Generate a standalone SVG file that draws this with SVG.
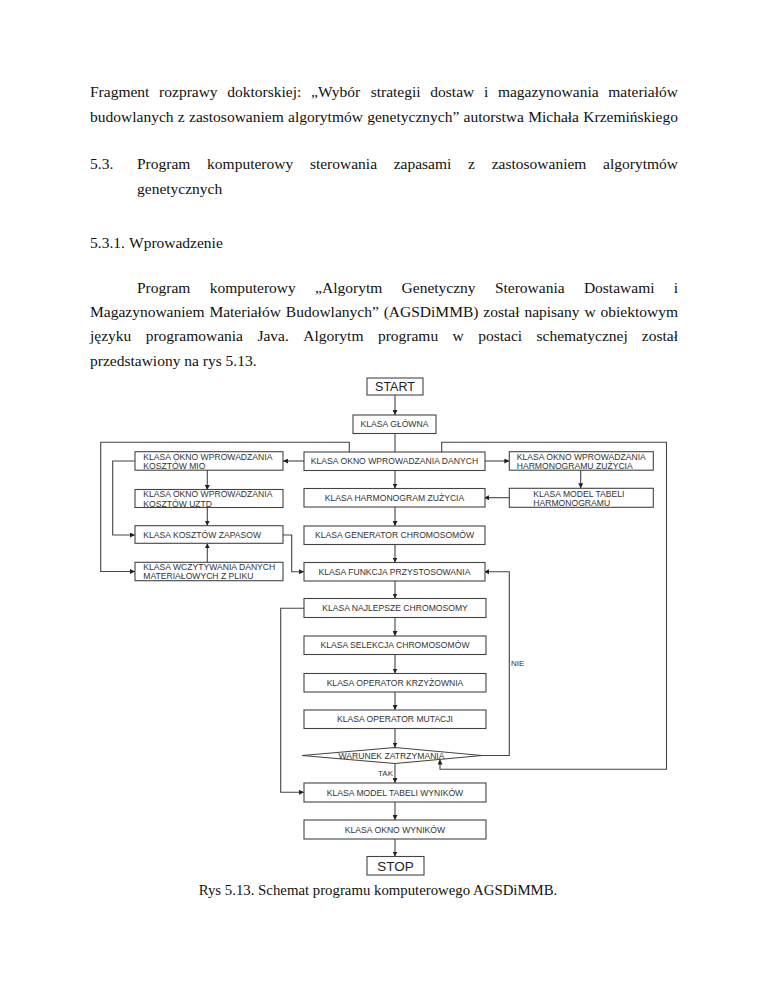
<svg xmlns="http://www.w3.org/2000/svg" width="768" height="994" viewBox="0 0 768 994">
<style>
.t{font-family:"Liberation Serif","Times New Roman",serif;font-size:15.5px;fill:#111}
.e{text-anchor:end}
.cap{font-family:"Liberation Serif","Times New Roman",serif;font-size:14.8px;fill:#111;text-anchor:middle}
.b{fill:#fff;stroke:#444;stroke-width:1.1}
.l{font-family:"Liberation Sans",Arial,sans-serif;font-size:8.6px;fill:#333}
.c{text-anchor:middle}
.big{font-family:"Liberation Sans",Arial,sans-serif;font-size:12.5px;fill:#222;text-anchor:middle}
.lab{font-family:"Liberation Sans",Arial,sans-serif;font-size:8px;fill:#333}
#connectors path{fill:none;stroke:#444;stroke-width:1.1}
</style>
<defs>
<marker id="ah" viewBox="0 0 10 10" refX="10" refY="5" markerWidth="5" markerHeight="5" markerUnits="userSpaceOnUse" orient="auto">
<path d="M0,0 L10,5 L0,10 z" fill="#222"/>
</marker>
</defs>
<rect width="768" height="994" fill="#fff"/>

<g id="body-text">
<text class="t" y="97"><tspan x="90">Fragment</tspan><tspan x="159.1">rozprawy</tspan><tspan x="227.3">doktorskiej:</tspan><tspan x="311.1">„Wybór</tspan><tspan x="370.7">strategii</tspan><tspan x="430.3">dostaw</tspan><tspan x="483.9">i</tspan><tspan x="497.9">magazynowania</tspan></text>
<text class="t e" x="678" y="97">materiałów</text>
<text class="t" y="121.5"><tspan x="90">budowlanych</tspan><tspan x="177.8">z</tspan><tspan x="189">zastosowaniem</tspan><tspan x="288">algorytmów</tspan><tspan x="367.2">genetycznych”</tspan><tspan x="463.6">autorstwa</tspan><tspan x="528.2">Michała</tspan></text>
<text class="t e" x="678" y="121.5">Krzemińskiego</text>
<text class="t" y="169"><tspan x="90">5.3.</tspan><tspan x="137">Program</tspan><tspan x="207.1">komputerowy</tspan><tspan x="309.9">sterowania</tspan><tspan x="393.7">zapasami</tspan><tspan x="468.1">z</tspan><tspan x="491.7">zastosowaniem</tspan></text>
<text class="t e" x="678" y="169">algorytmów</text>
<text class="t" x="137" y="193.5">genetycznych</text>
<text class="t" y="247.5"><tspan x="90">5.3.1.</tspan><tspan x="129">Wprowadzenie</tspan></text>
<text class="t" y="292.5"><tspan x="137">Program</tspan><tspan x="209.7">komputerowy</tspan><tspan x="315.1">„Algorytm</tspan><tspan x="401.6">Genetyczny</tspan><tspan x="494.9">Sterowania</tspan><tspan x="583.9">Dostawami</tspan></text>
<text class="t e" x="678" y="292.5">i</text>
<text class="t" y="317"><tspan x="90">Magazynowaniem</tspan><tspan x="209.4">Materiałów</tspan><tspan x="285.8">Budowlanych”</tspan><tspan x="383.7">(AGSDiMMB)</tspan><tspan x="483.3">został</tspan><tspan x="524.4">napisany</tspan><tspan x="584.4">w</tspan></text>
<text class="t e" x="678" y="317">obiektowym</text>
<text class="t" y="341"><tspan x="90">języku</tspan><tspan x="145.7">programowania</tspan><tspan x="257.4">Java.</tspan><tspan x="303.2">Algorytm</tspan><tspan x="377.9">programu</tspan><tspan x="452.6">w</tspan><tspan x="478.2">postaci</tspan><tspan x="536.5">schematycznej</tspan></text>
<text class="t e" x="678" y="341">został</text>
<text class="t" x="90" y="366">przedstawiony na rys 5.13.</text>
<text class="cap" x="378" y="895">Rys 5.13. Schemat programu komputerowego AGSDiMMB.</text>
</g>

<g id="connectors">
<path d="M395,395 V415" marker-end="url(#ah)"/>
<path d="M395,433.5 V452"/>
<path d="M304,461 H283" marker-end="url(#ah)"/>
<path d="M484,461 H509.3" marker-end="url(#ah)"/>
<path d="M395,470.5 V488.5" marker-end="url(#ah)"/>
<path d="M580.7,470 V488.3" marker-end="url(#ah)"/>
<path d="M509.3,497.7 H484" marker-end="url(#ah)"/>
<path d="M395,507 V526" marker-end="url(#ah)"/>
<path d="M395,544.5 V562.5" marker-end="url(#ah)"/>
<path d="M207.3,470 V490" marker-end="url(#ah)"/>
<path d="M207.3,507.3 V525.7" marker-end="url(#ah)"/>
<path d="M207.3,562.3 V543.3" marker-end="url(#ah)"/>
<path d="M135,461 H112.7 V535 H135" marker-end="url(#ah)"/>
<path d="M349.3,452 V442.3 H100.7 V571.5 H135" marker-end="url(#ah)"/>
<path d="M283,535 H291.7 V571.7 H304" marker-end="url(#ah)"/>
<path d="M441.7,452 V442.3 H666.5 V769.3 H440 V759.5" marker-end="url(#ah)"/>
<path d="M395,581 V598.5" marker-end="url(#ah)"/>
<path d="M395,617.5 V636" marker-end="url(#ah)"/>
<path d="M395,654.5 V673.5" marker-end="url(#ah)"/>
<path d="M395,692 V710" marker-end="url(#ah)"/>
<path d="M395,728.5 V747.5" marker-end="url(#ah)"/>
<path d="M482,755.5 H509.3 V571.7 H484" marker-end="url(#ah)"/>
<path d="M395,763.5 V783" marker-end="url(#ah)"/>
<path d="M304,608.3 H280.7 V792.3 H304" marker-end="url(#ah)"/>
<path d="M395,802 V820" marker-end="url(#ah)"/>
<path d="M395,839 V856.5" marker-end="url(#ah)"/>
<text class="lab" x="511" y="665.7">NIE</text>
<text class="lab e" x="393" y="775.5">TAK</text>
</g>

<g id="start"><rect class="b" x="367" y="378" width="56" height="17"/><text class="big" x="395" y="391">START</text></g>
<g id="klasa-glowna"><rect class="b" x="353" y="415" width="83" height="18.5"/><text class="l c" x="394.5" y="427.3">KLASA GŁÓWNA</text></g>
<g id="okno-danych"><rect class="b" x="304" y="452" width="181" height="18.5"/><text class="l c" x="394.5" y="464.3">KLASA OKNO WPROWADZANIA DANYCH</text></g>
<g id="harmonogram-zuzycia"><rect class="b" x="304" y="488.5" width="181" height="18.5"/><text class="l c" x="394.5" y="500.8">KLASA HARMONOGRAM ZUŻYCIA</text></g>
<g id="generator"><rect class="b" x="304" y="526" width="181" height="18.5"/><text class="l c" x="394.5" y="538.3">KLASA GENERATOR CHROMOSOMÓW</text></g>
<g id="funkcja"><rect class="b" x="304" y="562.5" width="181" height="18.5"/><text class="l c" x="394.5" y="574.8">KLASA FUNKCJA PRZYSTOSOWANIA</text></g>
<g id="najlepsze"><rect class="b" x="304" y="598.5" width="182" height="19"/><text class="l c" x="395" y="611">KLASA NAJLEPSZE CHROMOSOMY</text></g>
<g id="selekcja"><rect class="b" x="304" y="636" width="182" height="18.5"/><text class="l c" x="395" y="648.3">KLASA SELEKCJA CHROMOSOMÓW</text></g>
<g id="krzyzowanie"><rect class="b" x="304" y="673.5" width="182" height="18.5"/><text class="l c" x="395" y="685.8">KLASA OPERATOR KRZYŻOWNIA</text></g>
<g id="mutacja"><rect class="b" x="304" y="710" width="182" height="18.5"/><text class="l c" x="395" y="722.3">KLASA OPERATOR MUTACJI</text></g>
<g id="warunek"><polygon class="b" points="302,755.5 395,747.5 482,755.5 395,763.5"/><text class="l c" x="391.5" y="758.5">WARUNEK ZATRZYMANIA</text></g>
<g id="model-wynikow"><rect class="b" x="304" y="783" width="182" height="19"/><text class="l c" x="395" y="795.5">KLASA MODEL TABELI WYNIKÓW</text></g>
<g id="okno-wynikow"><rect class="b" x="304" y="820" width="182" height="19"/><text class="l c" x="395" y="832.5">KLASA OKNO WYNIKÓW</text></g>
<g id="stop"><rect class="b" x="367" y="856.5" width="57" height="18.5"/><text class="big" x="395.5" y="870.5" style="font-size:13.5px">STOP</text></g>

<g id="koszty-mio"><rect class="b" x="135" y="451.7" width="148" height="18.5"/><text class="l" x="143.3" y="460.3">KLASA OKNO WPROWADZANIA</text><text class="l" x="143.3" y="469.3">KOSZTÓW MIO</text></g>
<g id="koszty-uztd"><rect class="b" x="135" y="489.5" width="148" height="18"/><text class="l" x="143.3" y="497">KLASA OKNO WPROWADZANIA</text><text class="l" x="143.3" y="506.5">KOSZTÓW UZTD</text></g>
<g id="koszty-zapasow"><rect class="b" x="135" y="525.7" width="148" height="17.6"/><text class="l" x="143.3" y="537.6">KLASA KOSZTÓW ZAPASOW</text></g>
<g id="wczytywanie"><rect class="b" x="135" y="562.3" width="148" height="18.4"/><text class="l" x="143.3" y="570">KLASA WCZYTYWANIA DANYCH</text><text class="l" x="143.3" y="579">MATERIAŁOWYCH Z PLIKU</text></g>

<g id="okno-harmonogramu"><rect class="b" x="509.3" y="451.7" width="144" height="18.5"/><text class="l" x="516.7" y="460.3">KLASA OKNO WPROWADZANIA</text><text class="l" x="516.7" y="469.3">HARMONOGRAMU ZUŻYCIA</text></g>
<g id="model-harmonogramu"><rect class="b" x="509.3" y="488.3" width="144" height="19"/><text class="l" x="533.3" y="496.5">KLASA MODEL TABELI</text><text class="l" x="533.3" y="505.5">HARMONOGRAMU</text></g>
</svg>
